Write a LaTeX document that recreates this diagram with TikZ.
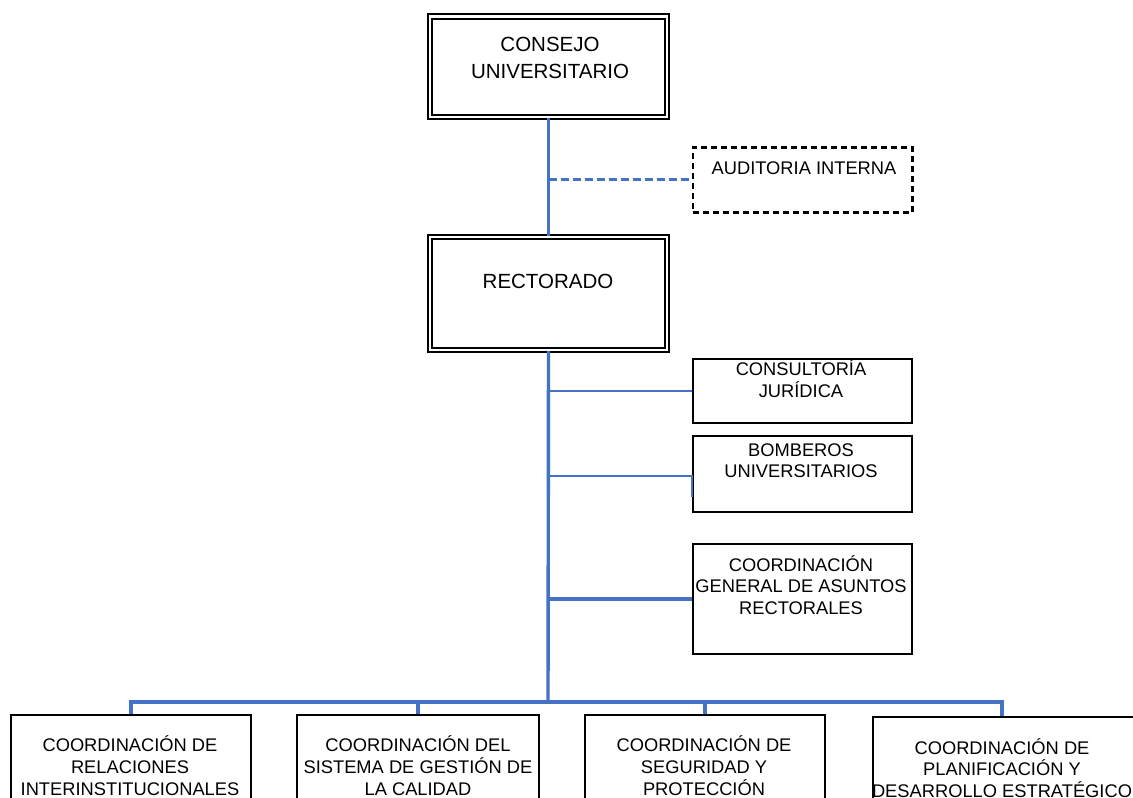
\documentclass[tikz,border=0pt]{standalone}
\usepackage{fontspec}
\setmainfont{Liberation Sans}
\usetikzlibrary{calc}
\definecolor{wblue}{RGB}{68,114,196}
\newcommand\ctrlines[1]{\vtop{\halign{\hfil##\hfil\cr#1\crcr}}}
\begin{document}
\begin{tikzpicture}[x=1pt,y=-1pt,
  conn/.style={draw=wblue,line width=3.4pt},
  thinconn/.style={draw=wblue,line width=2pt},
  dashconn/.style={draw=wblue,line width=3pt,dash pattern=on 8pt off 4pt},
  dbox/.style={draw=black,line width=2pt,double=white,double distance=2.5pt,rectangle,inner sep=0pt,anchor=north west},
  sbox/.style={draw=black,line width=2.2pt,rectangle,inner sep=0pt,anchor=north west},
  adbox/.style={sbox,line width=2.8pt,dash pattern=on 6pt off 4pt},
  bigtxt/.style={font=\fontsize{20.5}{27}\selectfont,anchor=base,inner sep=0pt},
  smalltxt/.style={font=\fontsize{18.3}{21.5}\selectfont,anchor=base,inner sep=0pt}]
\useasboundingbox (0,0) rectangle (1133,798);
\fill[white] (0,0) rectangle (1133,798);

% boxes
\node[dbox,minimum width=237pt,minimum height=100.5pt] (cu) at (429,15.5) {};
\node[dbox,minimum width=237pt,minimum height=113pt] (re) at (429,236) {};
\node[adbox,minimum width=219.5pt,minimum height=65pt] (au) at (691.5,146) {};
\node[sbox,minimum width=219.5pt,minimum height=64.5pt] (cj) at (691.5,357.5) {};
\node[sbox,minimum width=219.5pt,minimum height=76pt] (bo) at (691.5,435) {};
\node[sbox,minimum width=219.5pt,minimum height=109.5pt] (cg) at (691.5,543) {};
\node[sbox,minimum width=240pt,minimum height=120pt] (b1) at (10,714) {};
\node[sbox,minimum width=242pt,minimum height=120pt] (b2) at (296,714) {};
\node[sbox,minimum width=240pt,minimum height=120pt] (b3) at (584,714) {};
\node[sbox,minimum width=270pt,minimum height=120pt] (b4) at (872,716) {};

% texts
\node[bigtxt] (cut) at (550,51) {\ctrlines{CONSEJO\cr UNIVERSITARIO}};
\node[bigtxt] (ret) at (548,288) {RECTORADO};
\node[smalltxt] (aut) at (804,174) {AUDITORIA INTERNA};
\node[smalltxt,font=\fontsize{18.3}{22}\selectfont] (cjt) at (801,375) {\ctrlines{CONSULTORÍA\cr JURÍDICA}};
\node[smalltxt] (bot) at (801,456) {\ctrlines{BOMBEROS\cr UNIVERSITARIOS}};
\node[smalltxt] (cgt) at (801,571) {\ctrlines{COORDINACIÓN\cr GENERAL DE ASUNTOS\cr RECTORALES}};
\node[smalltxt,font=\fontsize{18.3}{22}\selectfont] (b1t) at (130,751) {\ctrlines{COORDINACIÓN DE\cr RELACIONES\cr INTERINSTITUCIONALES}};
\node[smalltxt,font=\fontsize{18.3}{22}\selectfont] (b2t) at (418,751) {\ctrlines{COORDINACIÓN DEL\cr SISTEMA DE GESTIÓN DE\cr LA CALIDAD}};
\node[smalltxt,font=\fontsize{18.3}{22}\selectfont] (b3t) at (704,751) {\ctrlines{COORDINACIÓN DE\cr SEGURIDAD Y\cr PROTECCIÓN}};
\node[smalltxt] (b4t) at (1002,754) {\ctrlines{COORDINACIÓN DE\cr PLANIFICACIÓN Y\cr DESARROLLO ESTRATÉGICO}};

% junctions
\coordinate (au j) at (cu.south |- au.west);
\coordinate (bus) at (548,702);
\coordinate (b4top) at ($(b4.north west)+(130,0)$);
\coordinate (boj) at ($(bo.north west)+(0,41)$);

% connectors
\draw[conn] (cu.south) -- (re.north);
\draw[dashconn] (au j) -- (au.west);
\draw[conn] (re.south) -- (bus);
\draw[thinconn] (cj.west -| re.south) -- (cj.west);
\draw[thinconn] (boj -| re.south) -- (boj) -- ++(0,21);
\draw[conn] (cg.west -| re.south) -- (cg.west);
\draw[conn] (b1.north) -- (b1.north |- bus) -- (b4top |- bus) -- (b4top);
\draw[conn] (b2.north) -- (b2.north |- bus);
\draw[conn] (b3.north) -- (b3.north |- bus);
\end{tikzpicture}
\end{document}
